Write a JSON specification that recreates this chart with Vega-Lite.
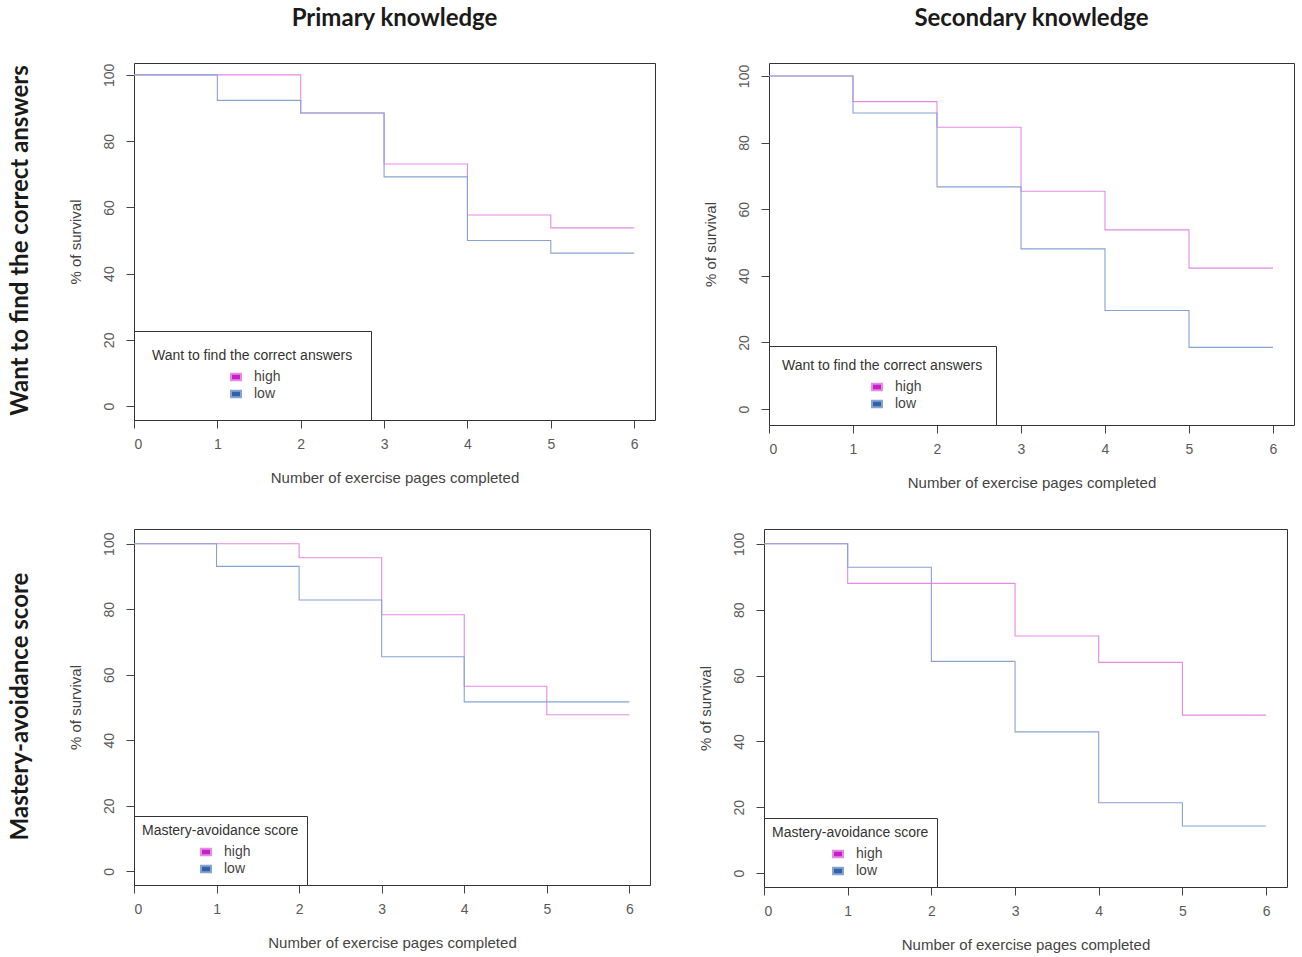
{
  "$schema": "https://vega.github.io/schema/vega-lite/v6.json",
  "background": "white",
  "padding": {"top": 6, "left": 8, "right": 8, "bottom": 4},
  "data": {
    "values": [
      {"panel": "TL", "group": "high", "pages": 0, "survival": 100},
      {"panel": "TL", "group": "high", "pages": 1, "survival": 100},
      {"panel": "TL", "group": "high", "pages": 2, "survival": 88.5},
      {"panel": "TL", "group": "high", "pages": 3, "survival": 73.1},
      {"panel": "TL", "group": "high", "pages": 4, "survival": 57.7},
      {"panel": "TL", "group": "high", "pages": 5, "survival": 53.8},
      {"panel": "TL", "group": "high", "pages": 6, "survival": 53.8},
      {"panel": "TL", "group": "low", "pages": 0, "survival": 100},
      {"panel": "TL", "group": "low", "pages": 1, "survival": 92.3},
      {"panel": "TL", "group": "low", "pages": 2, "survival": 88.5},
      {"panel": "TL", "group": "low", "pages": 3, "survival": 69.2},
      {"panel": "TL", "group": "low", "pages": 4, "survival": 50.0},
      {"panel": "TL", "group": "low", "pages": 5, "survival": 46.2},
      {"panel": "TL", "group": "low", "pages": 6, "survival": 46.2},
      {"panel": "TR", "group": "high", "pages": 0, "survival": 100},
      {"panel": "TR", "group": "high", "pages": 1, "survival": 92.3},
      {"panel": "TR", "group": "high", "pages": 2, "survival": 84.6},
      {"panel": "TR", "group": "high", "pages": 3, "survival": 65.4},
      {"panel": "TR", "group": "high", "pages": 4, "survival": 53.8},
      {"panel": "TR", "group": "high", "pages": 5, "survival": 42.3},
      {"panel": "TR", "group": "high", "pages": 6, "survival": 42.3},
      {"panel": "TR", "group": "low", "pages": 0, "survival": 100},
      {"panel": "TR", "group": "low", "pages": 1, "survival": 88.9},
      {"panel": "TR", "group": "low", "pages": 2, "survival": 66.7},
      {"panel": "TR", "group": "low", "pages": 3, "survival": 48.1},
      {"panel": "TR", "group": "low", "pages": 4, "survival": 29.6},
      {"panel": "TR", "group": "low", "pages": 5, "survival": 18.5},
      {"panel": "TR", "group": "low", "pages": 6, "survival": 18.5},
      {"panel": "BL", "group": "high", "pages": 0, "survival": 100},
      {"panel": "BL", "group": "high", "pages": 1, "survival": 100},
      {"panel": "BL", "group": "high", "pages": 2, "survival": 95.7},
      {"panel": "BL", "group": "high", "pages": 3, "survival": 78.3},
      {"panel": "BL", "group": "high", "pages": 4, "survival": 56.5},
      {"panel": "BL", "group": "high", "pages": 5, "survival": 47.8},
      {"panel": "BL", "group": "high", "pages": 6, "survival": 47.8},
      {"panel": "BL", "group": "low", "pages": 0, "survival": 100},
      {"panel": "BL", "group": "low", "pages": 1, "survival": 93.1},
      {"panel": "BL", "group": "low", "pages": 2, "survival": 82.8},
      {"panel": "BL", "group": "low", "pages": 3, "survival": 65.5},
      {"panel": "BL", "group": "low", "pages": 4, "survival": 51.7},
      {"panel": "BL", "group": "low", "pages": 5, "survival": 51.7},
      {"panel": "BL", "group": "low", "pages": 6, "survival": 51.7},
      {"panel": "BR", "group": "high", "pages": 0, "survival": 100},
      {"panel": "BR", "group": "high", "pages": 1, "survival": 88},
      {"panel": "BR", "group": "high", "pages": 2, "survival": 88},
      {"panel": "BR", "group": "high", "pages": 3, "survival": 72},
      {"panel": "BR", "group": "high", "pages": 4, "survival": 64},
      {"panel": "BR", "group": "high", "pages": 5, "survival": 48},
      {"panel": "BR", "group": "high", "pages": 6, "survival": 48},
      {"panel": "BR", "group": "low", "pages": 0, "survival": 100},
      {"panel": "BR", "group": "low", "pages": 1, "survival": 92.9},
      {"panel": "BR", "group": "low", "pages": 2, "survival": 64.3},
      {"panel": "BR", "group": "low", "pages": 3, "survival": 42.9},
      {"panel": "BR", "group": "low", "pages": 4, "survival": 21.4},
      {"panel": "BR", "group": "low", "pages": 5, "survival": 14.3},
      {"panel": "BR", "group": "low", "pages": 6, "survival": 14.3}
    ]
  },
  "vconcat": [
    {
      "title": {"text": "Want to find the correct answers", "orient": "left", "anchor": "middle", "offset": 35, "dx": 8},
      "hconcat": [
        {
          "title": {"text": "Primary knowledge"},
          "width": 521,
          "height": 357,
          "transform": [{"filter": "datum.panel == 'TL'"}],
          "mark": {"type": "line", "interpolate": "step-after", "strokeWidth": 1.1},
          "encoding": {
            "x": {"field": "pages", "type": "quantitative", "title": "Number of exercise pages completed",
              "scale": {"domain": [0, 6.25], "nice": false}, "axis": {"values": [0, 1, 2, 3, 4, 5, 6]}},
            "y": {"field": "survival", "type": "quantitative", "title": "% of survival",
              "scale": {"domain": [-4.2, 103.6], "nice": false}, "axis": {"values": [0, 20, 40, 60, 80, 100]}},
            "color": {"field": "group", "type": "nominal",
              "scale": {"domain": ["high", "low"], "range": ["#e58ae5", "#87a3d2"]},
              "legend": {"title": "Want to find the correct answers", "orient": "bottom-left", "offset": 0,
                "padding": 18, "symbolOffset": 77,
                "encode": {"symbols": {"update": {
                  "fill": [{"test": "datum.value === 'high'", "value": "#c71fc7"}, {"value": "#2e64a6"}],
                  "stroke": [{"test": "datum.value === 'high'", "value": "#c71fc7"}, {"value": "#2e64a6"}]}}}}}
          }
        },
        {
          "title": {"text": "Secondary knowledge"},
          "width": 525,
          "height": 362,
          "transform": [{"filter": "datum.panel == 'TR'"}],
          "mark": {"type": "line", "interpolate": "step-after", "strokeWidth": 1.1},
          "encoding": {
            "x": {"field": "pages", "type": "quantitative", "title": "Number of exercise pages completed",
              "scale": {"domain": [0, 6.25], "nice": false}, "axis": {"values": [0, 1, 2, 3, 4, 5, 6]}},
            "y": {"field": "survival", "type": "quantitative", "title": "% of survival",
              "scale": {"domain": [-4.8, 103.9], "nice": false}, "axis": {"values": [0, 20, 40, 60, 80, 100]}},
            "color": {"field": "group", "type": "nominal",
              "scale": {"domain": ["high", "low"], "range": ["#e58ae5", "#87a3d2"]},
              "legend": {"title": "Want to find the correct answers", "orient": "bottom-left", "offset": 0,
                "padding": 13, "symbolOffset": 88,
                "encode": {"symbols": {"update": {
                  "fill": [{"test": "datum.value === 'high'", "value": "#c71fc7"}, {"value": "#2e64a6"}],
                  "stroke": [{"test": "datum.value === 'high'", "value": "#c71fc7"}, {"value": "#2e64a6"}]}}}}}
          }
        }
      ],
      "spacing": 46,
      "resolve": {"scale": {"color": "independent"}, "legend": {"color": "independent"}}
    },
    {
      "title": {"text": "Mastery-avoidance score", "orient": "left", "anchor": "middle", "offset": 35, "dx": 34},
      "hconcat": [
        {
          "width": 516,
          "height": 356,
          "transform": [{"filter": "datum.panel == 'BL'"}],
          "mark": {"type": "line", "interpolate": "step-after", "strokeWidth": 1.1},
          "encoding": {
            "x": {"field": "pages", "type": "quantitative", "title": "Number of exercise pages completed",
              "scale": {"domain": [0, 6.25], "nice": false}, "axis": {"values": [0, 1, 2, 3, 4, 5, 6]}},
            "y": {"field": "survival", "type": "quantitative", "title": "% of survival",
              "scale": {"domain": [-4.2, 104.5], "nice": false}, "axis": {"values": [0, 20, 40, 60, 80, 100]}},
            "color": {"field": "group", "type": "nominal",
              "scale": {"domain": ["high", "low"], "range": ["#e58ae5", "#87a3d2"]},
              "legend": {"title": "Mastery-avoidance score", "orient": "bottom-left", "offset": 0,
                "padding": 8, "symbolOffset": 57,
                "encode": {"symbols": {"update": {
                  "fill": [{"test": "datum.value === 'high'", "value": "#c71fc7"}, {"value": "#2e64a6"}],
                  "stroke": [{"test": "datum.value === 'high'", "value": "#c71fc7"}, {"value": "#2e64a6"}]}}}}}
          }
        },
        {
          "width": 523,
          "height": 358,
          "transform": [{"filter": "datum.panel == 'BR'"}],
          "mark": {"type": "line", "interpolate": "step-after", "strokeWidth": 1.1},
          "encoding": {
            "x": {"field": "pages", "type": "quantitative", "title": "Number of exercise pages completed",
              "scale": {"domain": [0, 6.25], "nice": false}, "axis": {"values": [0, 1, 2, 3, 4, 5, 6]}},
            "y": {"field": "survival", "type": "quantitative", "title": "% of survival",
              "scale": {"domain": [-4.2, 104.5], "nice": false}, "axis": {"values": [0, 20, 40, 60, 80, 100]}},
            "color": {"field": "group", "type": "nominal",
              "scale": {"domain": ["high", "low"], "range": ["#e58ae5", "#87a3d2"]},
              "legend": {"title": "Mastery-avoidance score", "orient": "bottom-left", "offset": 0,
                "padding": 8, "symbolOffset": 59,
                "encode": {"symbols": {"update": {
                  "fill": [{"test": "datum.value === 'high'", "value": "#c71fc7"}, {"value": "#2e64a6"}],
                  "stroke": [{"test": "datum.value === 'high'", "value": "#c71fc7"}, {"value": "#2e64a6"}]}}}}}
          }
        }
      ],
      "spacing": 46,
      "resolve": {"scale": {"color": "independent"}, "legend": {"color": "independent"}}
    }
  ],
  "spacing": 37,
  "resolve": {"scale": {"color": "independent"}, "legend": {"color": "independent"}},
  "config": {
    "view": {"stroke": "#333", "strokeWidth": 1},
    "title": {"font": "Lato", "fontSize": 24, "fontWeight": "bold", "color": "#1a1a1a", "offset": 32},
    "axis": {
      "domain": false,
      "grid": false,
      "tickColor": "#444",
      "tickSize": 8,
      "labelFont": "Liberation Sans",
      "labelFontSize": 14,
      "labelColor": "#5a5a5a",
      "labelPadding": 9,
      "titleFont": "Liberation Sans",
      "titleFontSize": 15,
      "titleFontWeight": "normal",
      "titleColor": "#444"
    },
    "axisY": {"labelAngle": -90, "labelAlign": "center", "labelBaseline": "bottom", "labelPadding": 10, "titlePadding": 19},
    "axisX": {"titlePadding": 19},
    "legend": {
      "strokeColor": "#333",
      "fillColor": "white",
      "titleFont": "Liberation Sans",
      "titleFontSize": 14,
      "titleFontWeight": "normal",
      "titleColor": "#333",
      "titlePadding": 7,
      "titleLimit": 400,
      "labelFont": "Liberation Sans",
      "labelFontSize": 14,
      "labelColor": "#444",
      "labelOffset": 11,
      "rowPadding": 1,
      "symbolType": "M-1,-0.65H1V0.65H-1Z",
      "symbolSize": 100,
      "symbolStrokeWidth": 2,
      "symbolOpacity": 1
    }
  }
}
